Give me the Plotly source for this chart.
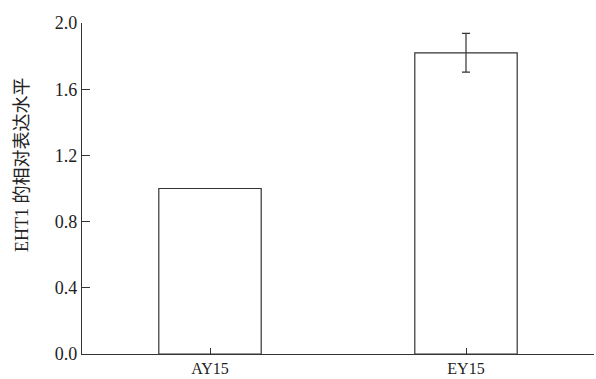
import plotly.graph_objects as go

categories = ["AY15", "EY15"]
values = [1.0, 1.82]
err_category = "EY15"
err_value = 0.117
y_ticks = [0.0, 0.4, 0.8, 1.2, 1.6, 2.0]
y_title = "EHT1 的相对表达水平"

FONT = "Liberation Serif, Times New Roman, Noto Sans CJK SC, serif"
x_pos = list(range(len(categories)))
ei = categories.index(err_category)

fig = go.Figure()
fig.add_trace(go.Bar(
    x=x_pos, y=values, width=0.4,
    marker=dict(color="white", line=dict(color="#333333", width=1.2)),
    showlegend=False,
))
fig.add_trace(go.Scatter(
    x=[x_pos[ei]], y=[values[ei]], mode="markers",
    marker=dict(size=1, opacity=0),
    error_y=dict(type="data", array=[err_value], visible=True, color="#333333",
                 thickness=1.2, width=4),
    showlegend=False, hoverinfo="skip",
))

fig.update_layout(
    width=596, height=379,
    margin=dict(l=82, r=2, t=23, b=25, autoexpand=False),
    paper_bgcolor="white", plot_bgcolor="white",
    font=dict(family=FONT, size=18, color="#222222"),
    xaxis=dict(
        range=[-0.5, 1.5], tickmode="array",
        tickvals=x_pos + [1.5], ticktext=categories + [""],
        ticks="inside", ticklen=6, tickcolor="#333333", tickwidth=1,
        tickfont=dict(size=16),
        showline=True, linecolor="#333333", linewidth=1.2,
        showgrid=False, zeroline=False, fixedrange=True, automargin=False,
    ),
    yaxis=dict(
        range=[0, 2.0], tickmode="array", tickvals=y_ticks,
        ticktext=[f"{v:.1f}" for v in y_ticks],
        ticks="inside", ticklen=8, tickcolor="#333333", tickwidth=1,
        showline=True, linecolor="#333333", linewidth=1.2,
        showgrid=False, zeroline=False, fixedrange=True, automargin=False,
    ),
    annotations=[dict(
        text=y_title, textangle=-90, showarrow=False,
        xref="paper", yref="paper", x=(22 - 82) / 512, y=(354 - 165) / 331,
        xanchor="center", yanchor="middle",
        font=dict(family=FONT, size=18, color="#222222"),
    )],
)

fig.write_html(
    "out.html",
    config={"displayModeBar": False},
    post_script="document.body.style.margin='0';document.body.style.overflow='hidden';",
)
